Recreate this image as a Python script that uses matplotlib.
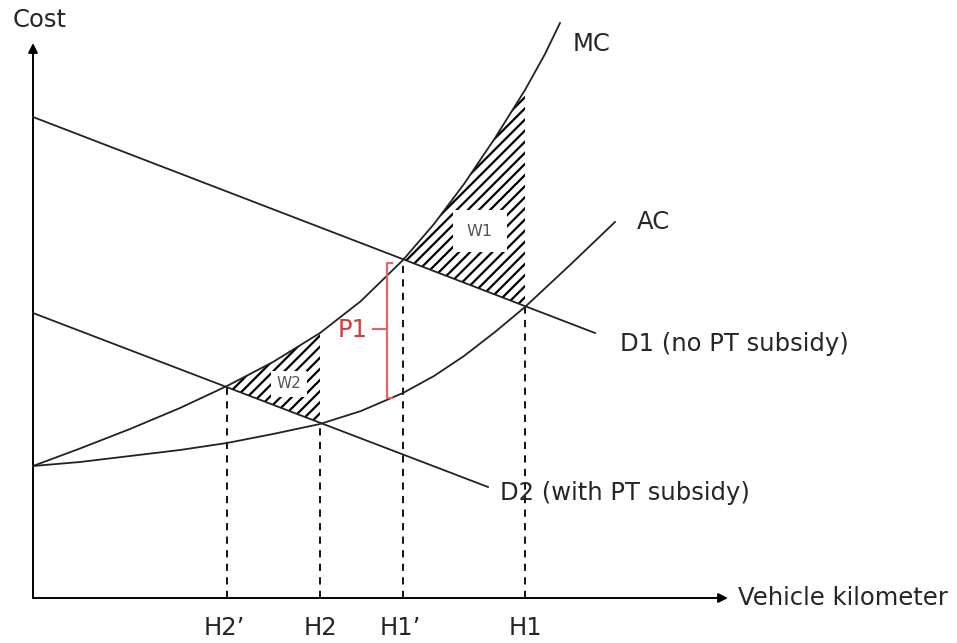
import numpy as np
import matplotlib
matplotlib.use("Agg")
import matplotlib.pyplot as plt

plt.rcParams['font.family'] = ['DejaVu Sans']
plt.rcParams['hatch.linewidth'] = 1.6

# ---- data (schematic units: x = vehicle km, y = cost) ----
mc_x = [0, 47, 97, 147, 194, 240, 287, 328, 370, 401, 431, 462, 492, 512, 527]
mc_y = [132, 149.5, 169, 190, 212, 236, 265, 297, 338, 374, 414, 460, 508, 544, 575]

ac_x = [0, 47, 97, 147, 194, 240, 287, 328, 370, 401, 431, 462, 492, 537, 582]
ac_y = [132, 136, 142, 148, 155, 164, 174, 187, 205, 222, 242, 266, 291, 333, 376]

d1_x = [0, 562]
d1_y = [481, 265]

d2_x = [0, 455]
d2_y = [285, 111]

h_labels = ["H2\u2019", "H2", "H1\u2019", "H1"]
h_vals = [194, 287, 370, 492]
h_tops = [212, 175, 338, 291]

curve_labels = ["MC", "AC", "D1 (no PT subsidy)", "D2 (with PT subsidy)"]

fig = plt.figure(figsize=(9.57, 6.43), dpi=100)
ax = fig.add_axes([0, 0, 1, 1])
ax.set_xlim(-33, 924)
ax.set_ylim(-45, 598)
ax.axis('off')

FS = 17.5
lw = 1.3
tc = '#262626'

# axes with arrows
ax.annotate('', xy=(0, 555), xytext=(0, 0),
            arrowprops=dict(arrowstyle='-|>', color='black', lw=1.4,
                            mutation_scale=14, shrinkA=0, shrinkB=0))
ax.annotate('', xy=(695, 0), xytext=(0, 0),
            arrowprops=dict(arrowstyle='-|>', color='black', lw=1.4,
                            mutation_scale=14, shrinkA=0, shrinkB=0))
ax.text(7, 578, "Cost", fontsize=FS, ha='center', va='center', color=tc)
ax.text(705, 0, "Vehicle kilometer", fontsize=FS, ha='left', va='center', color=tc)

# hatched areas
def d_at(xs, ys, x):
    return float(np.interp(x, xs, ys))

i0, i1 = mc_x.index(h_vals[2]), mc_x.index(h_vals[3])
w1_x = mc_x[i0:i1 + 1] + [h_vals[3], h_vals[2]]
w1_y = mc_y[i0:i1 + 1] + [d_at(d1_x, d1_y, h_vals[3]), d_at(d1_x, d1_y, h_vals[2])]
ax.fill(w1_x, w1_y, facecolor='white', edgecolor='black', hatch='///', linewidth=0, zorder=1)

j0, j1 = mc_x.index(h_vals[0]), mc_x.index(h_vals[1])
w2_x = mc_x[j0:j1 + 1] + [h_vals[1], h_vals[0]]
w2_y = mc_y[j0:j1 + 1] + [d_at(d2_x, d2_y, h_vals[1]), d_at(d2_x, d2_y, h_vals[0])]
ax.fill(w2_x, w2_y, facecolor='white', edgecolor='black', hatch='///', linewidth=0, zorder=1)

# curves
for xs, ys in [(mc_x, mc_y), (ac_x, ac_y), (d1_x, d1_y), (d2_x, d2_y)]:
    ax.plot(xs, ys, color='#222222', lw=lw, zorder=3, solid_joinstyle='round')

# dashed verticals
for xv, yt, lab in zip(h_vals, h_tops, h_labels):
    ax.plot([xv, xv], [0, yt], color='black', lw=1.3, ls=(0, (4, 3.5)), zorder=2)
    ax.text(xv - 3 if "\u2019" in lab else xv, -30, lab, fontsize=FS,
            ha='center', va='center', color=tc)

# curve labels
ax.text(540, 554, curve_labels[0], fontsize=FS, ha='left', va='center', color=tc)
ax.text(604, 376, curve_labels[1], fontsize=FS, ha='left', va='center', color=tc)
ax.text(587, 254, curve_labels[2], fontsize=FS, ha='left', va='center', color=tc)
ax.text(467, 105, curve_labels[3], fontsize=FS, ha='left', va='center', color=tc)

# W labels
ax.text(447, 367, "W1", fontsize=11.5, ha='center', va='center', color='#555555', zorder=5,
        bbox=dict(facecolor='white', edgecolor='none', boxstyle='square,pad=0.85'))
ax.text(256, 214, "W2", fontsize=11, ha='center', va='center', color='#555555', zorder=5,
        bbox=dict(facecolor='white', edgecolor='none', boxstyle='square,pad=0.35'))

# P1 bracket
red = '#e06666'
bx = 354
ax.plot([bx + 5, bx, bx, bx + 5], [335, 335, 200, 200], color=red, lw=1.6, zorder=4,
        solid_joinstyle='round')
ax.plot([bx - 14, bx], [269, 269], color=red, lw=1.6, zorder=4)
ax.text(320, 268, "P1", fontsize=FS, ha='center', va='center', color='#d63a3a', zorder=5)

fig.savefig("out.png", dpi=100)
